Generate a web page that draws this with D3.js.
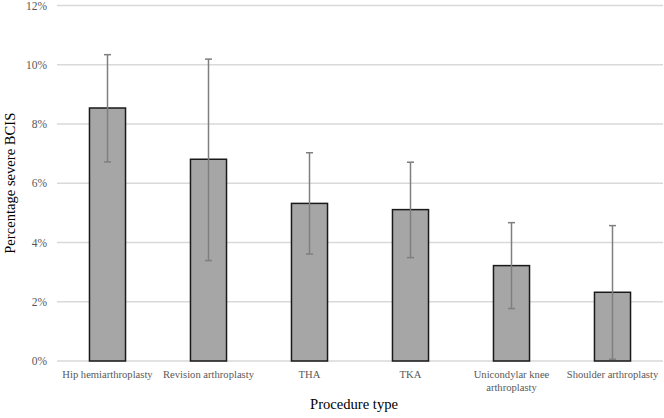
<!DOCTYPE html>
<html>
<head>
<meta charset="utf-8">
<script src="https://cdn.jsdelivr.net/npm/d3@7"></script>
<style>
  html, body { margin: 0; padding: 0; background: #fff; }
  svg { display: block; }
</style>
</head>
<body>
<svg id="chart" width="664" height="418"></svg>
<script>
const categories = [
  ["Hip hemiarthroplasty"],
  ["Revision arthroplasty"],
  ["THA"],
  ["TKA"],
  ["Unicondylar knee", "arthroplasty"],
  ["Shoulder arthroplasty"]
];
const values = [8.54, 6.81, 5.32, 5.11, 3.22, 2.32];
const errLow = [6.72, 3.39, 3.61, 3.49, 1.77, 0.06];
const errHigh = [10.34, 10.19, 7.03, 6.71, 4.67, 4.57];
const yTicks = [0, 2, 4, 6, 8, 10, 12];

const FONT = "Liberation Serif";
const svg = d3.select("#chart");
const margin = { left: 57, right: 1, top: 5.5, bottom: 57 };
const W = 664, H = 418;

const x = d3.scaleBand()
  .domain(d3.range(categories.length))
  .range([margin.left, W - margin.right])
  .paddingInner(0.643)
  .paddingOuter(0.3215);

const y = d3.scaleLinear().domain([0, 12]).range([H - margin.bottom, margin.top]);

// gridlines
svg.append("g").selectAll("line").data(yTicks).join("line")
  .attr("x1", margin.left).attr("x2", W - margin.right)
  .attr("y1", d => y(d)).attr("y2", d => y(d))
  .attr("stroke", "#d9d9d9").attr("stroke-width", 1.3);

// y axis labels
const yAxis = d3.axisLeft(y).tickValues(yTicks).tickFormat(d => d + "%").tickSize(0).tickPadding(10);
const yg = svg.append("g").attr("transform", `translate(${margin.left},0)`).call(yAxis);
yg.attr("font-family", FONT).attr("font-size", 11.5);
yg.select(".domain").remove();
yg.selectAll("text").attr("font-family", FONT).attr("font-size", 11.5).attr("fill", "#595959");

// bars
svg.append("g").selectAll("rect").data(values).join("rect")
  .attr("x", (d, i) => x(i))
  .attr("width", x.bandwidth())
  .attr("y", d => y(d))
  .attr("height", d => y(0) - y(d))
  .attr("fill", "#a6a6a6")
  .attr("stroke", "#1a1a1a")
  .attr("stroke-width", 1.5);

// error bars
const eg = svg.append("g").attr("stroke", "#7f7f7f").attr("stroke-width", 1.5);
values.forEach((v, i) => {
  const cx = x(i) + x.bandwidth() / 2;
  eg.append("line").attr("x1", cx).attr("x2", cx).attr("y1", y(errLow[i])).attr("y2", y(errHigh[i]));
  eg.append("line").attr("x1", cx - 3.5).attr("x2", cx + 3.5).attr("y1", y(errLow[i])).attr("y2", y(errLow[i]));
  eg.append("line").attr("x1", cx - 3.5).attr("x2", cx + 3.5).attr("y1", y(errHigh[i])).attr("y2", y(errHigh[i]));
});

// x labels
const xg = svg.append("g");
categories.forEach((lines, i) => {
  const t = xg.append("text")
    .attr("x", x(i) + x.bandwidth() / 2)
    .attr("y", y(0) + 17)
    .attr("text-anchor", "middle")
    .attr("font-family", FONT).attr("font-size", 10.6).attr("fill", "#595959");
  lines.forEach((l, j) => {
    t.append("tspan").attr("x", x(i) + x.bandwidth() / 2).attr("dy", j === 0 ? 0 : 13).text(l);
  });
});

// axis titles
svg.append("text")
  .attr("x", 354).attr("y", 409)
  .attr("text-anchor", "middle")
  .attr("font-family", FONT).attr("font-size", 14.6).attr("fill", "#000")
  .text("Procedure type");

svg.append("text")
  .attr("transform", `translate(15,${(y(0) + y(12)) / 2}) rotate(-90)`)
  .attr("text-anchor", "middle")
  .attr("font-family", FONT).attr("font-size", 14.6).attr("fill", "#000")
  .text("Percentage severe BCIS");
</script>
</body>
</html>
